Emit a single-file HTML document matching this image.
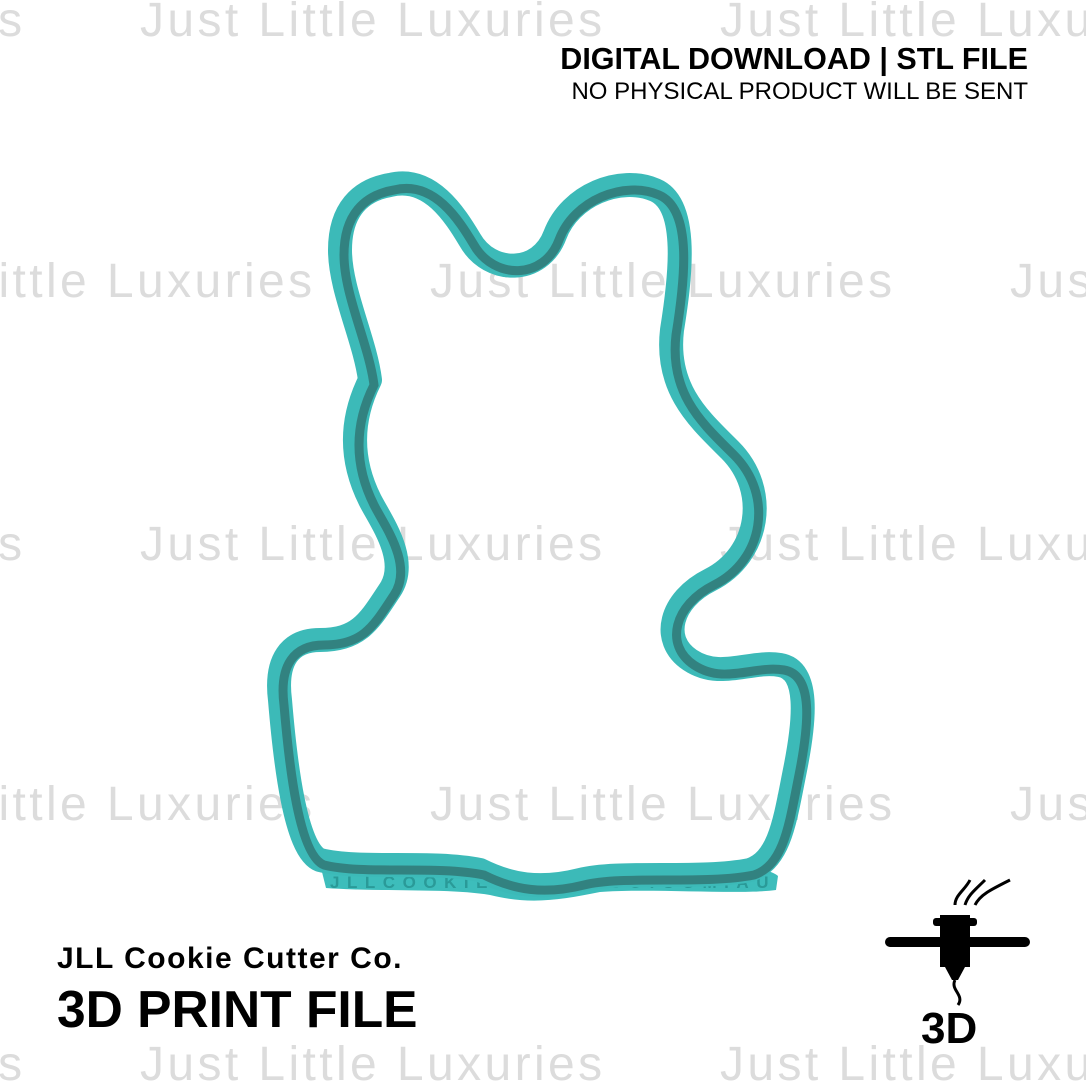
<!DOCTYPE html>
<html><head><meta charset="utf-8"><style>
html,body{margin:0;padding:0;background:#fff;}
#c{position:relative;width:1086px;height:1086px;overflow:hidden;background:#fff;font-family:"Liberation Sans",sans-serif;}
.wm{position:absolute;font-size:48px;color:#dcdcdc;white-space:nowrap;letter-spacing:3.4px;line-height:1;}
.t{position:absolute;white-space:nowrap;color:#000;line-height:1;}
</style></head><body><div id="c">
<div class="wm" style="left:-440px;top:-3px">Just Little Luxuries</div>
<div class="wm" style="left:140px;top:-3px">Just Little Luxuries</div>
<div class="wm" style="left:720px;top:-3px">Just Little Luxuries</div>
<div class="wm" style="left:-150px;top:258px">Just Little Luxuries</div>
<div class="wm" style="left:430px;top:258px">Just Little Luxuries</div>
<div class="wm" style="left:1010px;top:258px">Just Little Luxuries</div>
<div class="wm" style="left:-440px;top:521px">Just Little Luxuries</div>
<div class="wm" style="left:140px;top:521px">Just Little Luxuries</div>
<div class="wm" style="left:720px;top:521px">Just Little Luxuries</div>
<div class="wm" style="left:-150px;top:781px">Just Little Luxuries</div>
<div class="wm" style="left:430px;top:781px">Just Little Luxuries</div>
<div class="wm" style="left:1010px;top:781px">Just Little Luxuries</div>
<div class="wm" style="left:-440px;top:1041px">Just Little Luxuries</div>
<div class="wm" style="left:140px;top:1041px">Just Little Luxuries</div>
<div class="wm" style="left:720px;top:1041px">Just Little Luxuries</div>

<svg style="position:absolute;left:0;top:0" width="1086" height="1086">
<path d="M322,872 C360,866 420,862 470,870 C500,885 520,890 545,882 C575,872 640,868 700,868 C740,866 770,868 778,876 L776,890 C740,895 650,888 600,892 C560,900 530,905 490,895 C450,888 380,892 326,888 Z" fill="#3dbdbb"/>
<text x="330" y="888" font-size="17" fill="#2a9a98" font-family="Liberation Sans" font-weight="bold" letter-spacing="1.5" textLength="440">JLLCOOKIECUTTERCO.COM.AU</text>
<path d="M390,185 C430,175 455,215 470,240 C490,275 540,275 555,235 C570,195 620,175 655,190 C690,205 680,280 672,330 C665,390 700,420 730,450 C770,490 760,555 710,580 C670,600 660,640 690,660 C720,680 750,660 780,665 C810,670 805,720 795,770 C785,820 780,860 750,870 C700,880 620,870 580,880 C540,890 510,885 480,870 C430,860 360,870 320,860 C295,850 285,760 280,700 C275,660 290,640 320,640 C360,640 370,620 390,590 C410,560 380,520 370,500 C350,460 350,420 370,380 C365,340 340,290 340,250 C340,210 360,190 390,185 Z" fill="none" stroke="#3cbab8" stroke-width="24" stroke-linejoin="round"/>
<path d="M390,185 C430,175 455,215 470,240 C490,275 540,275 555,235 C570,195 620,175 655,190 C690,205 680,280 672,330 C665,390 700,420 730,450 C770,490 760,555 710,580 C670,600 660,640 690,660 C720,680 750,660 780,665 C810,670 805,720 795,770 C785,820 780,860 750,870 C700,880 620,870 580,880 C540,890 510,885 480,870 C430,860 360,870 320,860 C295,850 285,760 280,700 C275,660 290,640 320,640 C360,640 370,620 390,590 C410,560 380,520 370,500 C350,460 350,420 370,380 C365,340 340,290 340,250 C340,210 360,190 390,185 Z" fill="none" stroke="#2d6b68" stroke-width="9" transform="translate(4,5)" opacity="0.7"/>
<g fill="#000">
<rect x="885" y="937" width="145" height="10" rx="5"/>
<rect x="940" y="915" width="30" height="52"/>
<rect x="933" y="918" width="44" height="8" rx="3"/>
<polygon points="945,967 965,967 958,980 952,980"/>
<path d="M955,905 C955,895 965,890 970,880 M965,905 C968,895 975,890 985,880 M975,905 C980,895 990,890 1010,880" stroke="#000" stroke-width="3" fill="none"/>
<path d="M955,980 C950,990 965,995 958,1005" stroke="#000" stroke-width="3" fill="none"/>
</g>
<text x="921" y="1043" font-size="44" font-weight="bold" font-family="Liberation Sans">3D</text>
</svg>

<div class="t" style="right:58px;top:44px;font-size:30.5px;font-weight:bold">DIGITAL DOWNLOAD | STL FILE</div>
<div class="t" style="right:58px;top:80px;font-size:24px">NO PHYSICAL PRODUCT WILL BE SENT</div>
<div class="t" style="left:57px;top:944px;font-size:30px;font-weight:bold;letter-spacing:1.5px">JLL Cookie Cutter Co.</div>
<div class="t" style="left:57px;top:984px;font-size:51.5px;font-weight:bold">3D PRINT FILE</div>
</div></body></html>
